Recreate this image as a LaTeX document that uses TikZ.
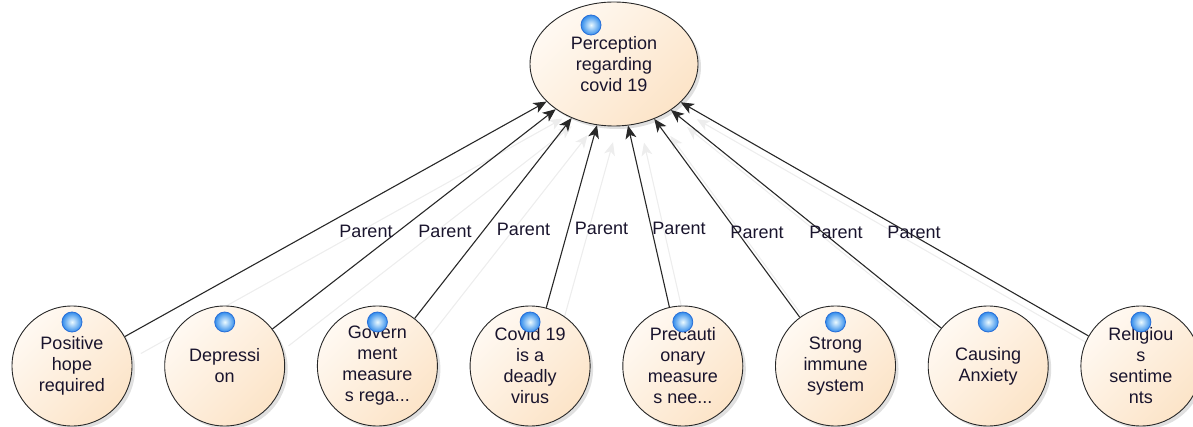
\documentclass[tikz,border=0pt]{standalone}
\usepackage{fontspec}
\setmainfont{Liberation Sans}
\usetikzlibrary{arrows.meta,shapes.geometric,shadows,calc}
\pgfdeclarelayer{bg}
\pgfsetlayers{bg,main}
\definecolor{nodeA}{RGB}{255,249,242}
\definecolor{nodeB}{RGB}{252,228,200}
\definecolor{edgec}{RGB}{40,40,40}
\definecolor{txt}{RGB}{25,20,45}
\definecolor{dotin}{RGB}{235,250,255}
\definecolor{dotout}{RGB}{50,140,235}
\definecolor{dotrim}{RGB}{40,110,215}
\begin{document}
\begin{tikzpicture}[x=1pt,y=-1pt,
  font=\fontsize{18}{21}\selectfont,
  concept/.style={circle, minimum size=120pt, inner sep=0pt, draw=edgec, line width=0.9pt,
    top color=nodeA, bottom color=nodeB, shading angle=45, text=txt, align=center,
    drop shadow={shadow xshift=3pt, shadow yshift=-3pt, opacity=0.12, fill=black}},
  rootnode/.style={ellipse, minimum width=168pt, minimum height=124pt, inner sep=0pt, draw=edgec, line width=0.9pt,
    top color=nodeA, bottom color=nodeB, shading angle=45, text=txt, align=center,
    drop shadow={shadow xshift=3pt, shadow yshift=-3pt, opacity=0.12, fill=black}},
  dot/.style={circle, minimum size=20pt, inner sep=0pt, draw=dotrim, line width=0.8pt,
    inner color=dotin, outer color=dotout},
  conn/.style={draw=edgec, line width=1.1pt, -{Stealth[length=13pt,width=11pt,inset=3.5pt]}},
  ghost/.style={draw=black!7, line width=1.1pt, -{Stealth[length=13pt,width=11pt,inset=3.5pt]}, transform canvas={shift={(16pt,-17pt)}}},
  lbl/.style={text=txt, inner sep=0pt}
]
\useasboundingbox (0,0) rectangle (1193,427);

\node[rootnode] (top) at (614,64) {Perception\\regarding\\covid 19};

\node[concept] (c1) at (72,366) {Positive\\hope\\required};
\node[concept] (c2) at (224.7,366) {Depressi\\on};
\node[concept] (c3) at (377.4,366) {Govern\\ment\\measure\\s rega...};
\node[concept] (c4) at (530.1,366) {Covid 19\\is a\\deadly\\virus};
\node[concept] (c5) at (682.8,366) {Precauti\\onary\\measure\\s nee...};
\node[concept] (c6) at (835.5,366) {Strong\\immune\\system};
\node[concept] (c7) at (988.2,366) {Causing\\Anxiety};
\node[concept] (c8) at (1140.9,366) {Religiou\\s\\sentime\\nts};

\begin{pgfonlayer}{bg}
\foreach \i in {1,...,8} \draw[ghost] (c\i) -- (top);
\end{pgfonlayer}

\foreach \i in {1,...,8} \draw[conn] (c\i) -- (top);

\node[dot] (d0) at ([xshift=-23pt,yshift=39pt]top.center) {};
\foreach \i in {1,...,8} \node[dot] (d\i) at ([yshift=44pt]c\i.center) {};

\node[lbl] (l1) at (366,231) {Parent};
\node[lbl] (l2) at (445,231) {Parent};
\node[lbl] (l3) at (523.5,229) {Parent};
\node[lbl] (l4) at (601.5,228.5) {Parent};
\node[lbl] (l5) at (679,228.5) {Parent};
\node[lbl] (l6) at (757,232) {Parent};
\node[lbl] (l7) at (836,232) {Parent};
\node[lbl] (l8) at (914,232) {Parent};
\end{tikzpicture}
\end{document}
